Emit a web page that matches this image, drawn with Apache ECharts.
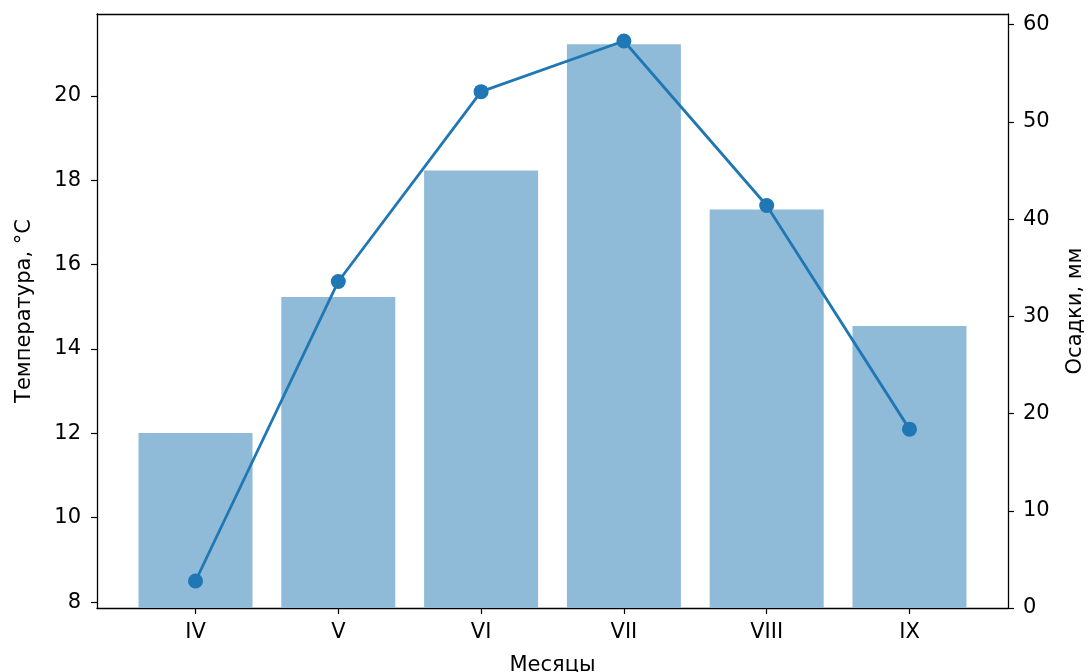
<!DOCTYPE html>
<html>
<head>
<meta charset="utf-8">
<script src="https://cdn.jsdelivr.net/npm/echarts@6/dist/echarts.min.js"></script>
<style>
html,body{margin:0;padding:0;background:#fff;}
#chart{width:1091px;height:672px;}
</style>
</head>
<body>
<div id="chart"></div>
<script>
var months = ['IV', 'V', 'VI', 'VII', 'VIII', 'IX'];
var temperature = [8.5, 15.6, 20.1, 21.3, 17.4, 12.1];
var precipitation = [18, 32, 45, 58, 41, 29];
var tempTicks = [8, 10, 12, 14, 16, 18, 20];
var precipTicks = [0, 10, 20, 30, 40, 50, 60];
var monthTicks = [0, 1, 2, 3, 4, 5];

var font = 'DejaVu Sans';
var chart = echarts.init(document.getElementById('chart'), null, {renderer: 'canvas'});
var axisLineStyle = {color: '#000', width: 1.3};

chart.setOption({
  backgroundColor: '#fff',
  animation: false,
  grid: {left: 97, right: 83, top: 14, bottom: 64, containLabel: false, outerBoundsMode: 'none'},
  xAxis: [{
    type: 'value',
    min: -0.69, max: 5.69,
    position: 'bottom',
    name: 'Месяцы',
    nameLocation: 'middle',
    nameGap: 47,
    nameTextStyle: {fontFamily: font, fontSize: 21, color: '#000'},
    splitLine: {show: false},
    axisLine: {show: true, onZero: false, lineStyle: axisLineStyle},
    axisTick: {show: true, length: 6, lineStyle: {color: '#000', width: 1.2}, customValues: monthTicks},
    axisLabel: {
      show: true, margin: 14, fontFamily: font, fontSize: 21, color: '#000',
      customValues: monthTicks,
      formatter: function (v) { return months[Math.round(v)]; }
    }
  }, {
    type: 'value',
    min: -0.69, max: 5.69,
    position: 'top',
    splitLine: {show: false},
    axisLine: {show: true, onZero: false, lineStyle: axisLineStyle},
    axisTick: {show: false},
    axisLabel: {show: false}
  }],
  yAxis: [{
    type: 'value',
    min: 7.86, max: 21.94,
    position: 'left',
    name: 'Температура, °C',
    nameLocation: 'middle',
    nameRotate: 90,
    nameGap: 62,
    nameTextStyle: {fontFamily: font, fontSize: 21, color: '#000'},
    splitLine: {show: false},
    axisLine: {show: true, onZero: false, lineStyle: axisLineStyle},
    axisTick: {show: true, length: 6, lineStyle: {color: '#000', width: 1.2}, customValues: tempTicks},
    axisLabel: {show: true, margin: 16, fontFamily: font, fontSize: 21, color: '#000', customValues: tempTicks}
  }, {
    type: 'value',
    min: 0, max: 61.1,
    position: 'right',
    name: 'Осадки, мм',
    nameLocation: 'middle',
    nameRotate: 90,
    nameGap: 57,
    nameTextStyle: {fontFamily: font, fontSize: 21, color: '#000'},
    splitLine: {show: false},
    axisLine: {show: true, onZero: false, lineStyle: axisLineStyle},
    axisTick: {show: true, length: 6, lineStyle: {color: '#000', width: 1.2}, customValues: precipTicks},
    axisLabel: {show: true, margin: 15, fontFamily: font, fontSize: 21, color: '#000', customValues: precipTicks}
  }],
  series: [{
    type: 'bar',
    xAxisIndex: 0,
    yAxisIndex: 1,
    barWidth: 114,
    itemStyle: {color: '#8fbbd9'},
    data: precipitation.map(function (v, i) { return [monthTicks[i], v]; }),
    z: 2
  }, {
    type: 'line',
    xAxisIndex: 0,
    yAxisIndex: 0,
    symbol: 'circle',
    symbolSize: 15,
    lineStyle: {color: '#1f77b4', width: 2.8},
    itemStyle: {color: '#1f77b4'},
    data: temperature.map(function (v, i) { return [monthTicks[i], v]; }),
    z: 3
  }]
});
</script>
</body>
</html>
